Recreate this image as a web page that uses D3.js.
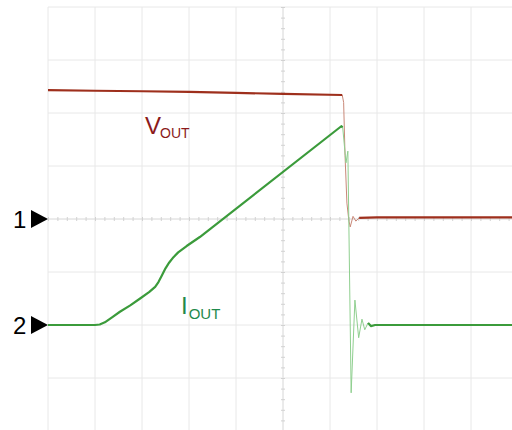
<!DOCTYPE html>
<html>
<head>
<meta charset="utf-8">
<script src="https://cdn.jsdelivr.net/npm/d3@7"></script>
<style>
  body{margin:0;background:#fff;}
  svg{display:block;}
</style>
</head>
<body>
<div id="container"></div>
<script>
let w=512;
let h=430;

// scope screen, in divisions (x: time div, y: div from centre)
let xDivs = d3.range(0,11);
let yDivs = d3.range(-4,5);

// VOUT trace (channel 1), [x div, y div]
let vOutFlat = [[0,2.43],[1,2.42],[2,2.41],[3,2.40],[4,2.38],[5,2.36],[6.26,2.34]];
let vOutEdge = [[6.26,2.34],[6.29,2.2],[6.32,1.2],[6.36,0.3],[6.40,-0.02],[6.43,-0.15],[6.49,0.05],[6.55,-0.04],[6.62,0.02]];
let vOutSettled = [[6.62,0.02],[7,0.03],[8,0.03],[9,0.03],[10,0.03]];

// IOUT trace (channel 2)
let iOutRamp = [[0,-2.0],[1.0,-2.0],[1.1,-1.99],[1.21,-1.95],[1.37,-1.85],[1.53,-1.75],[1.75,-1.63],[1.96,-1.50],[2.15,-1.38],[2.28,-1.28],[2.35,-1.19],[2.42,-1.07],[2.50,-0.93],[2.58,-0.82],[2.67,-0.72],[2.77,-0.63],[2.95,-0.51],[3.23,-0.34],[6.24,1.75],[6.27,1.73]];
let iOutEdge = [[6.27,1.73],[6.34,1.06],[6.38,1.28],[6.45,-3.28],[6.53,-1.53],[6.61,-2.24],[6.68,-1.89],[6.74,-2.09],[6.81,-1.96]];
let iOutSettled = [[6.81,-1.96],[6.87,-2.02],[6.96,-2.0],[8,-2.0],[9,-2.0],[10,-2.0]];

let markers = [{label:"1",y:0},{label:"2",y:-2}];

let viz = d3.select("#container")
  .append("svg")
    .attr("width",w)
    .attr("height",h)
    .style("background-color","#fff")
;

let x = d3.scaleLinear().domain([0,10]).range([48,518]);
let y = d3.scaleLinear().domain([-4,4]).range([431,7]);

// grid
viz.append("g").selectAll("line").data(xDivs).enter()
  .append("line")
    .attr("x1",d=>x(d)).attr("x2",d=>x(d))
    .attr("y1",y(4)).attr("y2",y(-4))
    .attr("stroke",d=>d==5?"#d6d6d6":"#e8e8e8")
    .attr("stroke-width",1)
;
viz.append("g").selectAll("line").data(yDivs).enter()
  .append("line")
    .attr("x1",x(0)).attr("x2",x(10))
    .attr("y1",d=>y(d)).attr("y2",d=>y(d))
    .attr("stroke",d=>d==0?"#d6d6d6":"#e8e8e8")
    .attr("stroke-width",1)
;

// minor ticks on centre axes
function minor(g){
  g.selectAll(".domain").remove();
  g.selectAll("text").remove();
  g.selectAll("line").attr("stroke","#d2d2d2");
}
viz.append("g").attr("transform","translate(0,"+y(0)+")")
  .call(d3.axisBottom(x).tickValues(d3.range(0,10.01,0.2)).tickSize(2).tickFormat(""))
  .call(minor);
viz.append("g").attr("transform","translate(0,"+y(0)+")")
  .call(d3.axisTop(x).tickValues(d3.range(0,10.01,0.2)).tickSize(2).tickFormat(""))
  .call(minor);
viz.append("g").attr("transform","translate("+x(5)+",0)")
  .call(d3.axisLeft(y).tickValues(d3.range(-4,4.01,0.2)).tickSize(2).tickFormat(""))
  .call(minor);
viz.append("g").attr("transform","translate("+x(5)+",0)")
  .call(d3.axisRight(y).tickValues(d3.range(-4,4.01,0.2)).tickSize(2).tickFormat(""))
  .call(minor);

let line = d3.line().x(d=>x(d[0])).y(d=>y(d[1]));

function trace(data,color,width){
  viz.append("path")
    .attr("d",line(data))
    .attr("fill","none")
    .attr("stroke",color)
    .attr("stroke-width",width)
    .attr("stroke-linejoin","round")
  ;
}

trace(vOutEdge,"#c98878",1);
trace(vOutFlat,"#9e2f1c",2.2);
trace(vOutSettled,"#9e2f1c",2.2);

trace(iOutEdge,"#8fcf8f",1);
trace(iOutRamp,"#3b9b3b",2.2);
trace(iOutSettled,"#3b9b3b",2.2);

// labels
let vt = viz.append("text")
  .attr("x",145).attr("y",134)
  .attr("fill","#8b1a1a")
  .style("font-family","Liberation Sans, Arial, sans-serif");
vt.append("tspan").attr("font-size",24).text("V");
vt.append("tspan").attr("font-size",14).attr("dx",-1).attr("dy",4).text("OUT");

let it = viz.append("text")
  .attr("x",181).attr("y",314)
  .attr("fill","#1f8a4c")
  .style("font-family","Liberation Sans, Arial, sans-serif");
it.append("tspan").attr("font-size",24).text("I");
it.append("tspan").attr("font-size",15).attr("dx",1).attr("dy",5).text("OUT");

// channel markers
let mk = viz.selectAll(".marker").data(markers).enter()
  .append("g")
    .attr("class","marker")
    .attr("transform",d=>"translate(0,"+y(d.y)+")")
;
mk.append("text")
  .attr("x",13).attr("y",8.5)
  .attr("font-size",24)
  .attr("fill","#000")
  .style("font-family","Liberation Sans, Arial, sans-serif")
  .text(d=>d.label);
mk.append("path")
  .attr("d","M31,-9L48,0L31,9Z")
  .attr("fill","#000");
</script>
</body>
</html>
